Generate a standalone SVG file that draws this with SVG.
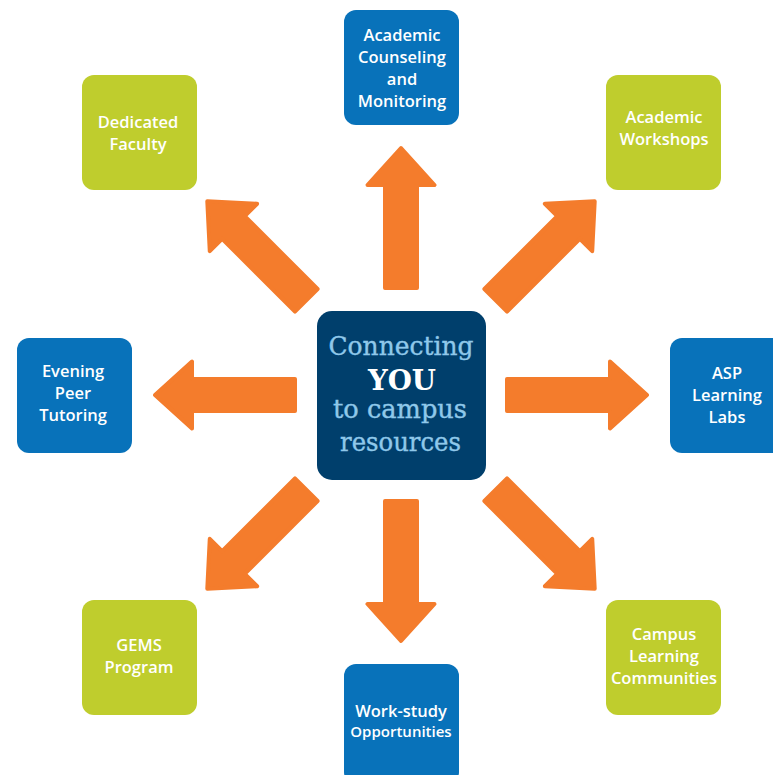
<svg xmlns="http://www.w3.org/2000/svg" width="773" height="775" viewBox="0 0 773 775">
<style>
.blue{fill:#0872BA}
.green{fill:#BFCD2D}
.nt{font-family:"Open Sans","Liberation Sans",sans-serif;font-weight:600;font-size:16.5px;fill:#FFFFFF;text-anchor:middle}
.arrow{fill:#F47C2C;stroke:#F47C2C;stroke-width:4;stroke-linejoin:round}
.ct{font-family:"DejaVu Serif","Liberation Serif",serif;fill:#8FC8EA;stroke:#8FC8EA;stroke-width:0.4;text-anchor:middle;font-size:26px}
.cy{font-family:"DejaVu Serif","Liberation Serif",serif;fill:#FFFFFF;text-anchor:middle;font-size:27px;font-weight:bold}
</style>
<defs>
<path id="arr" d="M2,-16 H105 V-33.5 L142,0 L105,33.5 V16 H2 Z"/>
</defs>
<rect width="773" height="775" fill="#FFFFFF"/>
<g id="connectors">
<use href="#arr" class="arrow" transform="translate(505,395)"/>
<use href="#arr" class="arrow" transform="translate(297,395) rotate(180)"/>
<use href="#arr" class="arrow" transform="translate(401,290) rotate(-90)"/>
<use href="#arr" class="arrow" transform="translate(401,499) rotate(90)"/>
<use href="#arr" class="arrow" transform="translate(494.3,301.7) rotate(-45)"/>
<use href="#arr" class="arrow" transform="translate(307.7,301.7) rotate(-135)"/>
<use href="#arr" class="arrow" transform="translate(307.7,488.3) rotate(135)"/>
<use href="#arr" class="arrow" transform="translate(494.3,488.3) rotate(45)"/>
</g>
<g id="center">
<rect x="317" y="311" width="169" height="169" rx="15" fill="#003F6C"/>
<text class="ct" x="401" y="355" textLength="145" lengthAdjust="spacingAndGlyphs">Connecting</text>
<text class="cy" x="402" y="390" textLength="68" lengthAdjust="spacingAndGlyphs">YOU</text>
<text class="ct" x="400" y="418" textLength="134" lengthAdjust="spacingAndGlyphs">to campus</text>
<text class="ct" x="400.5" y="451" textLength="121" lengthAdjust="spacingAndGlyphs">resources</text>
</g>
<g id="node-academic-counseling">
<rect class="blue" x="344" y="10" width="115" height="115" rx="12"/>
<text class="nt" x="402" y="41">Academic</text>
<text class="nt" x="402" y="63">Counseling</text>
<text class="nt" x="402" y="85">and</text>
<text class="nt" x="402" y="107">Monitoring</text>
</g>
<g id="node-academic-workshops">
<rect class="green" x="606" y="75" width="115" height="115" rx="12"/>
<text class="nt" x="664" y="123">Academic</text>
<text class="nt" x="664" y="145">Workshops</text>
</g>
<g id="node-asp">
<rect class="blue" x="670" y="338" width="115" height="115" rx="12"/>
<text class="nt" x="727" y="379">ASP</text>
<text class="nt" x="727" y="401">Learning</text>
<text class="nt" x="727" y="423">Labs</text>
</g>
<g id="node-campus-learning">
<rect class="green" x="606" y="600" width="115" height="115" rx="12"/>
<text class="nt" x="664" y="640">Campus</text>
<text class="nt" x="664" y="662">Learning</text>
<text class="nt" x="664" y="684">Communities</text>
</g>
<g id="node-work-study">
<rect class="blue" x="344" y="664" width="115" height="120" rx="12"/>
<text class="nt" x="401" y="717">Work-study</text>
<text class="nt" x="401" y="737" style="font-size:15px">Opportunities</text>
</g>
<g id="node-gems">
<rect class="green" x="82" y="600" width="115" height="115" rx="12"/>
<text class="nt" x="139" y="651">GEMS</text>
<text class="nt" x="139" y="673">Program</text>
</g>
<g id="node-evening">
<rect class="blue" x="17" y="338" width="115" height="115" rx="12"/>
<text class="nt" x="73" y="377">Evening</text>
<text class="nt" x="73" y="399">Peer</text>
<text class="nt" x="73" y="421">Tutoring</text>
</g>
<g id="node-dedicated">
<rect class="green" x="82" y="75" width="115" height="115" rx="12"/>
<text class="nt" x="138" y="128">Dedicated</text>
<text class="nt" x="138" y="150">Faculty</text>
</g>
</svg>
